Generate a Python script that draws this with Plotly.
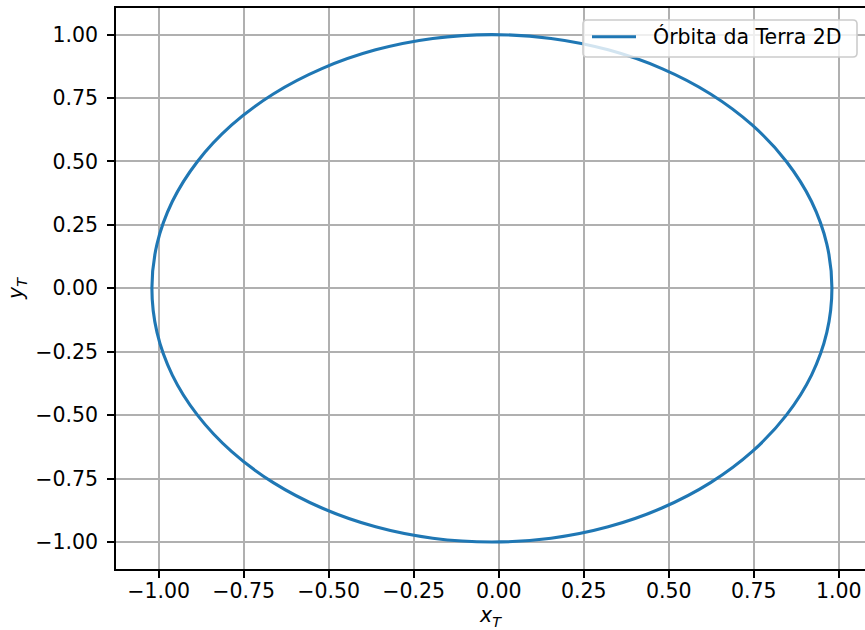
import plotly.graph_objects as go

# Points (x_T, y_T): upper half from right to left, then lower half back
orbit_x = [0.980, 0.965, 0.920, 0.846, 0.746, 0.623, 0.480, 0.322, 0.154, -0.020,
           -0.194, -0.362, -0.520, -0.663, -0.786, -0.886, -0.960, -1.005, -1.020,
           -1.005, -0.960, -0.886, -0.786, -0.663, -0.520, -0.362, -0.194, -0.020,
           0.154, 0.322, 0.480, 0.623, 0.746, 0.846, 0.920, 0.965, 0.980]
orbit_y = [0.000, 0.174, 0.342, 0.500, 0.643, 0.766, 0.866, 0.940, 0.985, 1.000,
           0.985, 0.940, 0.866, 0.766, 0.643, 0.500, 0.342, 0.174, 0.000,
           -0.174, -0.342, -0.500, -0.643, -0.766, -0.866, -0.940, -0.985, -1.000,
           -0.985, -0.940, -0.866, -0.766, -0.643, -0.500, -0.342, -0.174, 0.000]

tick_vals = [-1.00, -0.75, -0.50, -0.25, 0.00, 0.25, 0.50, 0.75, 1.00]
series_name = "Órbita da Terra 2D"

FONT = "DejaVu Sans"
FS = 20.5
LINE_COLOR = "#1f77b4"

W, H = 865, 630
ML, MR, MT, MB = 116, 0, 8, 61
PW, PH = W - ML - MR, H - MT - MB


def px(fx):  # figure px -> paper x
    return (fx - ML) / PW


def py(fy):  # figure px -> paper y
    return 1 - (fy - MT) / PH


fig = go.Figure()
fig.add_trace(go.Scatter(
    x=orbit_x, y=orbit_y, mode="lines", name=series_name, showlegend=False,
    line=dict(color=LINE_COLOR, width=3.1, shape="spline", smoothing=1.0),
))

axis_common = dict(
    tickvals=tick_vals, tickformat=".2f",
    showgrid=True, gridcolor="#b0b0b0", gridwidth=1.7,
    zeroline=False, showline=True, linecolor="black", linewidth=1.7,
    ticks="outside", ticklen=7, tickwidth=1.7, tickcolor="black",
    tickfont=dict(family=FONT, size=FS, color="black"),
    automargin=False,
)

# legend box (drawn as shapes + text), in page pixels
bx0, bx1, by0, by1, r = 583, 857, 20, 57, 4
x0, x1 = px(bx0), px(bx1)
y0, y1 = py(by0), py(by1)
rx, ry = r / PW, r / PH
legend_path = (
    f"M{x0+rx},{y0} L{x1-rx},{y0} Q{x1},{y0} {x1},{y0-ry} "
    f"L{x1},{y1+ry} Q{x1},{y1} {x1-rx},{y1} "
    f"L{x0+rx},{y1} Q{x0},{y1} {x0},{y1+ry} "
    f"L{x0},{y0-ry} Q{x0},{y0} {x0+rx},{y0} Z"
)
ly = py(36.7)

fig.update_layout(
    width=W, height=H,
    margin=dict(l=ML, r=MR, t=MT, b=MB),
    paper_bgcolor="white", plot_bgcolor="white",
    font=dict(family=FONT, size=FS, color="black"),
    showlegend=False,
    xaxis=dict(
        range=[-1.1256, 1.0773], mirror=True,
        title=dict(text="<i>x</i><sub><i>T</i></sub>", standoff=4,
                   font=dict(family=FONT, size=FS)),
        ticklabelstandoff=-4,
        **axis_common,
    ),
    yaxis=dict(
        range=[-1.1065, 1.105], mirror=False,
        title=dict(text="<i>y</i><sub><i>T</i></sub>", standoff=6,
                   font=dict(family=FONT, size=FS)),
        ticklabelstandoff=5,
        **axis_common,
    ),
    shapes=[
        dict(type="path", xref="paper", yref="paper", path=legend_path,
             fillcolor="rgba(255,255,255,0.8)", line=dict(color="#cccccc", width=1.6),
             layer="above"),
        dict(type="line", xref="paper", yref="paper",
             x0=px(592), x1=px(636), y0=ly, y1=ly,
             line=dict(color=LINE_COLOR, width=3.1), layer="above"),
    ],
    annotations=[
        dict(text=series_name, xref="paper", yref="paper", x=px(651), y=ly,
             xanchor="left", yanchor="middle", showarrow=False,
             font=dict(family=FONT, size=FS, color="black")),
    ],
)

fig.write_html(
    "out.html",
    config={"displayModeBar": False},
    post_script="document.body.style.margin='0';document.body.style.overflow='hidden';",
)
